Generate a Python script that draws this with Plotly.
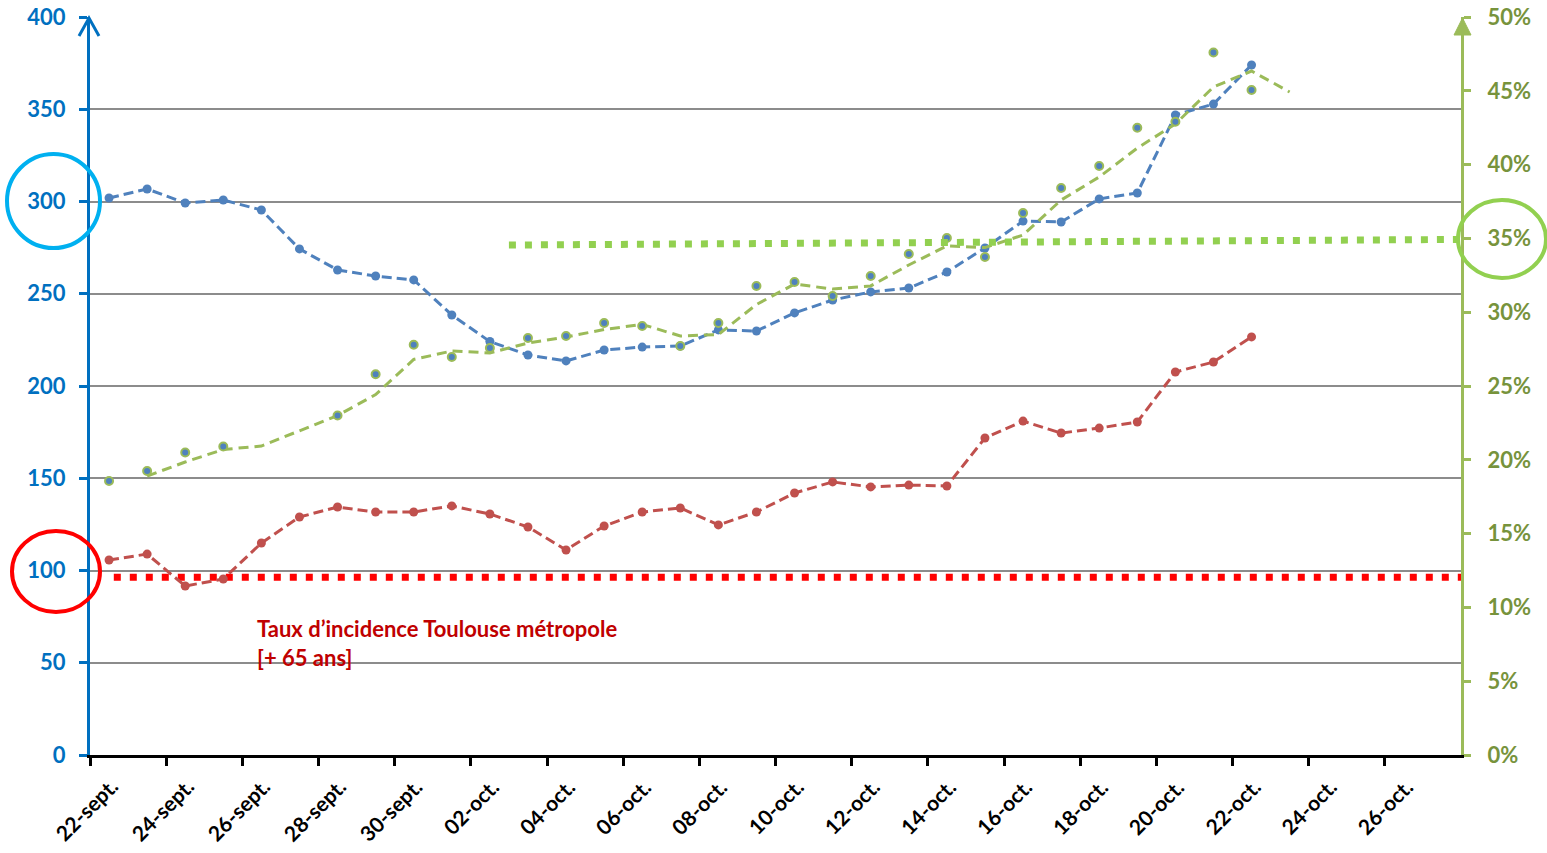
import plotly.graph_objects as go

# ---------------- data ----------------
DAYS = ["2020-09-22", "2020-09-23", "2020-09-24", "2020-09-25", "2020-09-26", "2020-09-27",
        "2020-09-28", "2020-09-29", "2020-09-30", "2020-10-01", "2020-10-02", "2020-10-03",
        "2020-10-04", "2020-10-05", "2020-10-06", "2020-10-07", "2020-10-08", "2020-10-09",
        "2020-10-10", "2020-10-11", "2020-10-12", "2020-10-13", "2020-10-14", "2020-10-15",
        "2020-10-16", "2020-10-17", "2020-10-18", "2020-10-19", "2020-10-20", "2020-10-21",
        "2020-10-22"]
TREND_DAYS = DAYS[1:] + ["2020-10-23"]

# blue: taux d'incidence (left axis)
BLUE = [301.9, 306.8, 299.2, 300.8, 295.4, 274.3, 262.9, 259.6, 257.5, 238.5, 224.1, 216.8,
        213.6, 219.5, 221.1, 221.7, 230.4, 229.8, 239.6, 246.6, 251.0, 253.1, 261.8, 274.8,
        289.4, 288.9, 301.4, 304.6, 346.9, 352.8, 374.0]
# red: taux d'incidence Toulouse metropole +65 ans (left axis)
RED = [105.7, 108.9, 91.6, 95.4, 114.9, 129.0, 134.4, 131.7, 131.7, 135.0, 130.6, 123.6,
       111.1, 124.1, 131.7, 133.9, 124.7, 131.7, 142.0, 148.0, 145.3, 146.3, 145.8, 171.8,
       181.0, 174.5, 177.2, 180.5, 207.6, 213.0, 226.6]
# green dots: percentage (right axis)
GREEN = [18.56, 19.24, 20.5, 20.9, None, None, 23.0, 25.8, 27.8, 26.96, 27.57, 28.25,
         28.39, 29.27, 29.07, 27.71, 29.27, 31.78, 32.05, 31.1, 32.45, 33.94, 35.03, 33.74,
         36.72, 38.41, 39.9, 42.5, 42.9, 47.6, 45.05]
# green dashed trend (right axis)
GREEN_TREND = [18.90, 19.85, 20.70, 20.93, None, 23.00, 24.42, 26.80, 27.37, 27.24, 27.91,
               28.32, 28.83, 29.17, 28.39, 28.49, 30.52, 31.91, 31.57, 31.78, 33.20, 34.49,
               34.38, 35.23, 37.60, 39.16, 41.12, 42.75, 45.26, 46.34, 44.92]
# threshold lines
RED_REF_X = ["2020-09-22 15:00", "2020-10-28"]
RED_REF_Y = [96.3, 96.3]
GREEN_REF_X = ["2020-10-03", "2020-10-28"]
GREEN_REF_Y = [34.55, 34.93]

TICK_DATES = ["2020-09-22", "2020-09-24", "2020-09-26", "2020-09-28", "2020-09-30",
              "2020-10-02", "2020-10-04", "2020-10-06", "2020-10-08", "2020-10-10",
              "2020-10-12", "2020-10-14", "2020-10-16", "2020-10-18", "2020-10-20",
              "2020-10-22", "2020-10-24", "2020-10-26"]
TICK_TEXT = ["22-sept.", "24-sept.", "26-sept.", "28-sept.", "30-sept.", "02-oct.", "04-oct.",
             "06-oct.", "08-oct.", "10-oct.", "12-oct.", "14-oct.", "16-oct.", "18-oct.",
             "20-oct.", "22-oct.", "24-oct.", "26-oct."]

LABEL = "Taux d’incidence Toulouse métropole<br>[+ 65 ans]"

# ---------------- style ----------------
FONT = "Lato"
C_BLUE = "#4F81BD"
C_RED = "#C0504D"
C_GREEN = "#9BBB59"
C_AX_L = "#0070C0"
C_AX_R = "#9BBB59"
C_TXT_R = "#77933C"

W_FIG, H_FIG = 1547, 853
PL, PR, PT, PB = 90, 1461, 17, 755


def fx(px):
    return (px - PL) / (PR - PL)


def fy(py):
    return (PB - py) / (PB - PT)


mid = [d + " 12:00" for d in DAYS]
mid_trend = [d + " 12:00" for d in TREND_DAYS]

fig = go.Figure()

fig.add_trace(go.Scatter(x=RED_REF_X, y=RED_REF_Y, mode="lines",
                         line=dict(color="#FF0000", width=7, dash="7px,9px"),
                         hoverinfo="skip", showlegend=False))
fig.add_trace(go.Scatter(x=mid, y=RED, mode="lines+markers",
                         line=dict(color=C_RED, width=3, dash="10px,5px"),
                         marker=dict(color=C_RED, size=9), showlegend=False))
fig.add_trace(go.Scatter(x=mid, y=BLUE, mode="lines+markers",
                         line=dict(color=C_BLUE, width=3, dash="10px,5px"),
                         marker=dict(color=C_BLUE, size=9), showlegend=False))
fig.add_trace(go.Scatter(x=mid_trend, y=[v / 100 if v is not None else None for v in GREEN_TREND],
                         mode="lines", connectgaps=True, yaxis="y2",
                         line=dict(color=C_GREEN, width=3, dash="10px,6px"),
                         showlegend=False))
fig.add_trace(go.Scatter(x=mid, y=[v / 100 if v is not None else None for v in GREEN],
                         mode="markers", yaxis="y2",
                         marker=dict(color=C_BLUE, size=8, line=dict(color=C_GREEN, width=2)),
                         showlegend=False))
fig.add_trace(go.Scatter(x=GREEN_REF_X, y=[v / 100 for v in GREEN_REF_Y], mode="lines",
                         yaxis="y2", line=dict(color="#92D050", width=7, dash="7px,9px"),
                         hoverinfo="skip", showlegend=False))

fig.update_layout(
    width=W_FIG, height=H_FIG,
    margin=dict(l=PL, r=W_FIG - PR, t=PT, b=H_FIG - PB, pad=0, autoexpand=False),
    paper_bgcolor="white", plot_bgcolor="white",
    showlegend=False,
    xaxis=dict(type="date", range=["2020-09-22", "2020-10-28"], automargin=False,
               tickvals=TICK_DATES, ticktext=TICK_TEXT, showticklabels=False,
               ticks="outside", ticklen=8, tickwidth=3, tickcolor="black",
               showline=True, linecolor="black", linewidth=3,
               showgrid=False, zeroline=False),
    yaxis=dict(range=[0, 400], dtick=50, tick0=0, automargin=False,
               showline=True, linecolor=C_AX_L, linewidth=3,
               ticks="outside", ticklen=8, tickwidth=3, tickcolor=C_AX_L,
               tickfont=dict(family=FONT, size=22, color=C_AX_L, weight="bold"),
               ticklabelstandoff=9,
               showgrid=True, gridcolor="#8C8C8C", gridwidth=1.5, zeroline=False),
    yaxis2=dict(range=[0, 0.5], dtick=0.05, tick0=0, tickformat=".0%", automargin=False,
                overlaying="y", side="right",
                showline=True, linecolor=C_AX_R, linewidth=3,
                ticks="outside", ticklen=7, tickwidth=3, tickcolor=C_AX_R,
                tickfont=dict(family=FONT, size=22, color=C_TXT_R, weight="bold"),
                ticklabelstandoff=12,
                showgrid=False, zeroline=False),
)

# rotated date labels
for d, t in zip(TICK_DATES, TICK_TEXT):
    fig.add_annotation(x=d, xref="x", y=0, yref="paper", text=t, showarrow=False,
                       textangle=-45, xanchor="right", yanchor="top",
                       xshift=35, yshift=-16,
                       font=dict(family=FONT, size=21, color="black", weight="bold"))

# red label
fig.add_annotation(x=fx(255), y=fy(613), xref="paper", yref="paper", text=LABEL,
                   showarrow=False, xanchor="left", yanchor="top", align="left",
                   font=dict(family=FONT, size=22, color="#C00000", weight="bold"))

# circles
fig.add_shape(type="circle", xref="paper", yref="paper",
              x0=fx(7), x1=fx(100), y0=fy(248), y1=fy(154),
              line=dict(color="#00B0F0", width=4))
fig.add_shape(type="circle", xref="paper", yref="paper",
              x0=fx(12), x1=fx(100), y0=fy(612), y1=fy(531),
              line=dict(color="#FF0000", width=4))
fig.add_shape(type="circle", xref="paper", yref="paper",
              x0=fx(1458), x1=fx(1546), y0=fy(278), y1=fy(200),
              line=dict(color="#92D050", width=4))

# axis arrowheads
fig.add_shape(type="path", xref="paper", yref="paper",
              path=f"M {fx(79)} {fy(36)} L {fx(89)} {fy(18)} L {fx(99)} {fy(36)}",
              line=dict(color=C_AX_L, width=3))
fig.add_shape(type="path", xref="paper", yref="paper",
              path=f"M {fx(1454)} {fy(35)} L {fx(1462.5)} {fy(18)} L {fx(1471)} {fy(35)} Z",
              line=dict(color=C_AX_R, width=1), fillcolor=C_AX_R)

fig.write_html("out.html", config={"displayModeBar": False},
               post_script="document.body.style.margin='0';document.body.style.overflow='hidden';")
